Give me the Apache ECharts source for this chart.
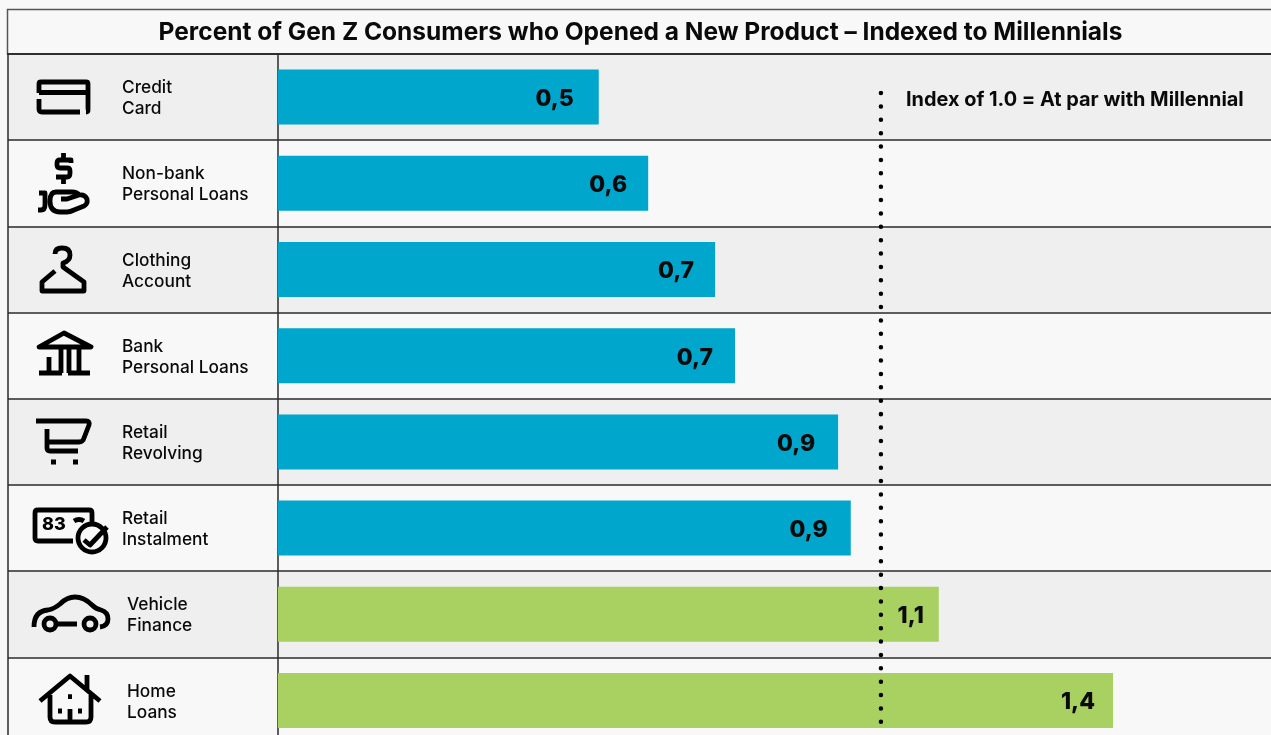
<!DOCTYPE html>
<html><head><meta charset="utf-8">
<style>html,body{margin:0;padding:0;background:#f8f8f8;width:1271px;height:735px;overflow:hidden}#c{width:1271px;height:745px}</style>
<script src="https://cdn.jsdelivr.net/npm/echarts@6/dist/echarts.min.js"></script>
</head><body><div id="c"></div>
<script>
const chartTitle = 'Percent of Gen Z Consumers who Opened a New Product – Indexed to Millennials';
const noteText = 'Index of 1.0 = At par with Millennial';
const categories = ['Credit\nCard','Non-bank\nPersonal Loans','Clothing\nAccount','Bank\nPersonal Loans','Retail\nRevolving','Retail\nInstalment','Vehicle\nFinance','Home\nLoans'];
const values = [0.532,0.614,0.725,0.758,0.929,0.95,1.096,1.385];
const valueLabels = ['0,5','0,6','0,7','0,7','0,9','0,9','1,1','1,4'];
const parIndex = 1;

const FONT = 'Inter, sans-serif';
const INK = '#0a0a0a';
const labelInset = [25,21,21,22,23,23,15,18];
const labelIndent = [0,0,0,0,0,0,5,5];
const barColor = v => v > 1 ? '#a9d161' : '#00a6cb';
const rowColors = ['#efefef','#f8f8f8'];
const rowLine = {show:true,lineStyle:{color:'#2a2a2a',width:1.5}};
const TOP = 54, ROWS_H = 689.6;

const icons = [
 'M39 93V84Q39 82 41 82H86Q88 82 88 84V110Q88 112 86 112M39 92.5H87M39 99V109Q39 112 42 112H80',
 'M71 163V160H60Q57 160 57 163.5V165Q57 168 60 168H67Q70 168 70 171V173Q70 177 67 177H56M63.5 153V158M63.5 177V184M39 193H45V205Q45 210 41 210H38M62 192H56Q50 192 50 201Q50 212 60 212H67Q70 212 74 210L84 206Q88 204 87 199Q85 194 79 195L67 199H61M62 192H72Q77 192 79 195',
 'M55 254Q55 248 62 248Q70 248 70 255Q70 261 63 263V267L84 282V291H42V282L55 271',
 'M39 347L64 333L91 347ZM39 373H62M68 373H90M49 357V372M61 349V373M69 349V373M79 349V373',
 'M36 421H86Q90 421 89 425L84 438Q83 442 79 442H47M47 429V448Q47 451 50 451H78M51 462H56M73 462H78',
 'M92 524V513Q92 510 89 510H38Q35 510 35 513V538Q35 541 38 541H73M74 521Q79 518 84 521M106 538A14 14 0 1 1 78 538A14 14 0 1 1 106 538M84 540L90 545L107 527',
 'M34 627Q34 611 48 610Q54 609 60 604Q67 597 75 597Q84 597 92 605Q96 609 101 610Q108 612 108 619Q108 626 100 627M56 624A6 6 0 1 1 44 624A6 6 0 1 1 56 624M96 624A6 6 0 1 1 84 624A6 6 0 1 1 96 624M57 624H77',
 'M40 701L70 676L100 701M87 675V691M50 695V717Q50 722 55 722H86Q91 722 91 717V695M70 709V722M68 696.7H72M58 711H62M78 711H82'
];
icons.forEach((d,i)=>echarts.graphic.registerShape('icon'+i, echarts.graphic.extendPath(d,{})));

const chart = echarts.init(document.getElementById('c'), null, {renderer:'canvas'});
chart.setOption({
 animation:false,
 backgroundColor:'#f8f8f8',
 title:{text:chartTitle,left:635.5,top:15,textAlign:'center',textStyle:{fontFamily:FONT,fontSize:24.5,fontWeight:700,color:INK}},
 grid:[
  {left:8,width:270,top:TOP,height:ROWS_H},
  {left:278,width:993,top:TOP,height:ROWS_H},
  {left:278,width:993,top:93,height:631}
 ],
 xAxis:[
  {gridIndex:0,type:'value',show:false,min:0,max:1},
  {gridIndex:1,type:'value',show:false,min:0,max:1.647},
  {gridIndex:2,type:'value',show:false,min:0,max:1.647}
 ],
 yAxis:[
  {gridIndex:0,type:'category',inverse:true,data:categories,
   axisLine:{show:true,lineStyle:{color:'#2a2a2a',width:1.5}},axisTick:{show:false},
   splitArea:{show:true,interval:0,areaStyle:{color:rowColors}},splitLine:Object.assign({interval:0},rowLine),
   axisLabel:{inside:true,interval:0,margin:114,align:'left',padding:[3,0,0,0],
    formatter:(v,i)=>v.split('\n').map(s=>`{${labelIndent[i]?'b':'a'}|${s}}`).join('\n'),
    rich:{a:{fontFamily:FONT,fontSize:17.3,fontWeight:500,lineHeight:21,color:INK},
          b:{fontFamily:FONT,fontSize:17.3,fontWeight:500,lineHeight:21,color:INK,padding:[0,0,0,5]}}}},
  {gridIndex:1,type:'category',inverse:true,data:categories,offset:0.7,
   axisLine:{show:true,lineStyle:{color:'#2a2a2a',width:1.5}},axisTick:{show:false},axisLabel:{show:false},
   splitArea:{show:true,interval:0,areaStyle:{color:rowColors}},splitLine:Object.assign({interval:0},rowLine)},
  {gridIndex:2,type:'value',inverse:true,show:false,min:0,max:1}
 ],
 series:[
  {type:'bar',xAxisIndex:1,yAxisIndex:1,barWidth:55,silent:true,
   data:values.map((v,i)=>({value:v,itemStyle:{color:barColor(v)},
     label:{show:true,position:'insideRight',distance:labelInset[i],offset:[0,2],formatter:valueLabels[i],
       fontFamily:FONT,fontSize:23,fontWeight:800,color:INK}}))},
  {type:'line',xAxisIndex:2,yAxisIndex:2,symbol:'none',silent:true,z:5,
   data:[[parIndex,0],[parIndex,1]],
   lineStyle:{color:'#000',width:4.5,type:[0.01,13.37],cap:'round'}}
 ],
 graphic:[
  {type:'rect',silent:true,z:10,shape:{x:7.5,y:9.5,width:1300,height:44.5},style:{fill:null,stroke:'#555',lineWidth:1.5}},
  {type:'line',silent:true,z:10,shape:{x1:7,y1:54,x2:1271,y2:54},style:{stroke:'#222',lineWidth:1.5}},
  {type:'text',silent:true,z:10,x:906,y:100,style:{text:noteText,fontFamily:FONT,fontSize:19.9,fontWeight:700,fill:INK,verticalAlign:'middle'}}
 ].concat(icons.map((d,i)=>({type:'icon'+i,silent:true,z:10,style:{fill:null,stroke:'#000',lineWidth:4.8,lineJoin:'round',lineCap:'butt'}})),
 [{type:'text',silent:true,z:10,x:42,y:525,style:{text:'83',fontFamily:FONT,fontSize:18,fontWeight:800,fill:'#000',verticalAlign:'middle'}}])
});
</script></body></html>
